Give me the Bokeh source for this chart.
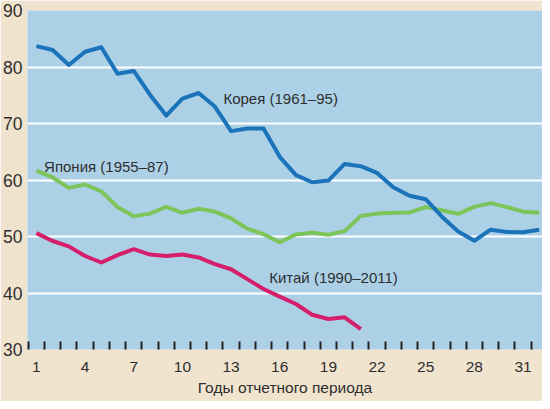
from bokeh.plotting import figure
from bokeh.models import Range1d, FixedTicker, Label
from bokeh.embed import file_html
from bokeh.resources import INLINE

# ---- data ----
period = list(range(1, 33))
korea = [83.7, 83.0, 80.35, 82.7, 83.5, 78.8, 79.3, 75.1, 71.4, 74.4, 75.4,
         73.0, 68.65, 69.1, 69.1, 64.1, 60.85, 59.6, 59.9, 62.85, 62.45,
         61.25, 58.7, 57.2, 56.6, 53.5, 50.9, 49.25, 51.2, 50.8, 50.75, 51.2]
japan = [61.65, 60.45, 58.6, 59.2, 58.0, 55.2, 53.6, 54.05, 55.25, 54.2, 54.9,
         54.4, 53.2, 51.4, 50.4, 49.0, 50.35, 50.65, 50.3, 50.95, 53.65,
         54.05, 54.2, 54.25, 55.2, 54.65, 54.0, 55.25, 55.9, 55.2, 54.4, 54.2]
china_period = list(range(1, 22))
china = [50.6, 49.2, 48.25, 46.55, 45.4, 46.7, 47.75, 46.8, 46.55, 46.8, 46.3,
         45.1, 44.2, 42.45, 40.7, 39.35, 38.05, 36.15, 35.4, 35.7, 33.6]

x_tick_labels = [1, 4, 7, 10, 13, 16, 19, 22, 25, 28, 31]
y_tick_labels = [30, 40, 50, 60, 70, 80, 90]
grid_values = [40, 50, 60, 70, 80]
series_names = ["Корея (1961–95)", "Япония (1955–87)", "Китай (1990–2011)"]
x_title = "Годы отчетного периода"

BEIGE = "#f0e4cf"
PANEL = "#acd1e7"
C_KOREA = "#1b73ba"
C_JAPAN = "#7dc45a"
C_CHINA = "#d61f6b"
TXT = "#2e2e2e"
FONT = "Liberation Sans"

X0, X1 = 0.45, 32.2
Y0, Y1 = 30, 90

p = figure(width=542, height=401, output_backend="svg", toolbar_location=None,
           x_range=Range1d(X0, X1), y_range=Range1d(Y0, Y1),
           min_border_left=27, min_border_right=0, min_border_top=10,
           min_border_bottom=52)
p.background_fill_color = PANEL
p.border_fill_color = BEIGE
p.outline_line_color = None

p.xgrid.visible = False
p.ygrid.ticker = FixedTicker(ticks=grid_values)
p.ygrid.grid_line_color = "white"
p.ygrid.grid_line_width = 2

# y axis
p.yaxis.ticker = FixedTicker(ticks=y_tick_labels)
p.yaxis.axis_line_color = None
p.yaxis.major_tick_line_color = None
p.yaxis.minor_tick_line_color = None
p.yaxis.major_tick_out = 0
p.yaxis.major_tick_in = 0
p.yaxis.major_label_standoff = 5
p.yaxis.major_label_text_font = FONT
p.yaxis.major_label_text_font_size = "17.5px"
p.yaxis.major_label_text_color = TXT

# x axis
p.xaxis.ticker = FixedTicker(ticks=x_tick_labels,
                             minor_ticks=[i + 0.5 for i in range(0, 32)])
p.xaxis.axis_line_color = None
p.xaxis.major_tick_line_color = None
p.xaxis.major_tick_out = 0
p.xaxis.major_tick_in = 0
p.xaxis.minor_tick_in = 8
p.xaxis.minor_tick_out = 0
p.xaxis.minor_tick_line_color = "#222222"
p.xaxis.minor_tick_line_width = 2
p.xaxis.major_label_standoff = 12
p.xaxis.major_label_text_font = FONT
p.xaxis.major_label_text_font_size = "15.5px"
p.xaxis.major_label_text_color = TXT
p.xaxis.axis_label = x_title
p.xaxis.axis_label_text_font = FONT
p.xaxis.axis_label_text_font_size = "15.5px"
p.xaxis.axis_label_text_font_style = "normal"
p.xaxis.axis_label_text_color = TXT
p.xaxis.axis_label_standoff = 4

p.line(period, japan, line_color=C_JAPAN, line_width=4, line_join="round")
p.line(period, korea, line_color=C_KOREA, line_width=4, line_join="round")
p.line(china_period, china, line_color=C_CHINA, line_width=4, line_join="round")

label_pos = [(12.53, 74.4), (1.47, 62.45), (15.35, 42.8)]
for name, (lx, ly) in zip(series_names, label_pos):
    p.add_layout(Label(x=lx, y=ly, text=name, text_baseline="middle",
                       text_align="left", text_font=FONT,
                       text_font_size="15px", text_color=TXT))

open("out.html", "w").write(file_html(p, INLINE))
